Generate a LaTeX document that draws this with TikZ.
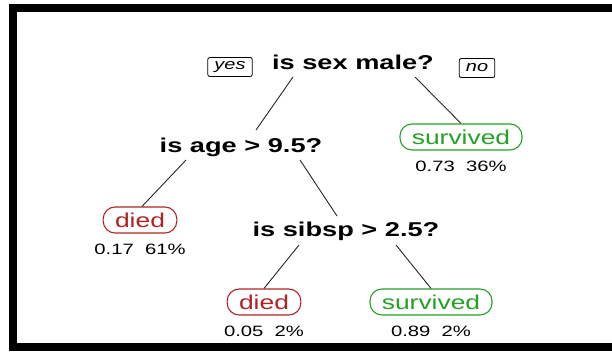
\documentclass[tikz,border=0pt]{standalone}
\usepackage{fontspec}
\setmainfont{Liberation Sans}
\definecolor{diedred}{RGB}{176,36,36}
\definecolor{survgreen}{RGB}{38,160,38}

\begin{document}
\begin{tikzpicture}[x=1pt,y=-1pt,label distance=9pt,
		split/.style={font=\fontsize{20}{22}\selectfont\bfseries,xscale=1.36,inner sep=1pt},
		leaf/.style={draw,fill=white,rounded corners=12pt,line width=1.1pt,minimum height=26pt,inner xsep=9pt,inner ysep=0pt,font=\fontsize{20}{22}\selectfont,xscale=1.32},
		died/.style={leaf,draw=diedred,text=diedred},
		surv/.style={leaf,draw=survgreen,text=survgreen},
		side/.style={draw,rounded corners=2pt,line width=0.8pt,minimum height=19pt,inner xsep=5pt,inner ysep=0pt,font=\fontsize{15}{17}\selectfont\itshape,xscale=1.33},
		prob/.style={black,font=\fontsize{15}{17}\selectfont,xscale=1.35,inner sep=1pt},
		edge/.style={line width=0.9pt,black!85}]
		\useasboundingbox (0,0) rectangle (612,351);
		\draw[line width=8pt] (612,8) -- (12.5,8) -- (12.5,347) -- (612,347);
		
		\node[split] (male) at (353,62) {is sex male?};
		\node[split] (age) at (241,147) {is age > 9.5?};
		\node[split] (sibsp) at (346,231) {is sibsp > 2.5?};
		
		\node[side] (yes) at (230,67) {yes};
		\node[side] (no) at (477,68) {no};
		
		\node[surv,label={[prob]below:{0.73\ \ 36\%}}] (s1) at (461,137) {survived};
		\node[died,label={[prob]below:{0.17\ \ 61\%}}] (d1) at (140,220) {died};
		\node[died,label={[prob]below:{0.05\ \ 2\%}}] (d2) at (264,302) {died};
		\node[surv,label={[prob]below:{0.89\ \ 2\%}}] (s2) at (431,302) {survived};
		
		\draw[edge] ([shift={(-60,15)}]male.center) -- ([shift={(15,-17)}]age.center);
		\draw[edge] ([shift={(62,15)}]male.center) -- (s1.north);
		\draw[edge] ([shift={(-55,13)}]age.center) -- ([shift={(2,0)}]d1.north);
		\draw[edge] ([shift={(59,13)}]age.center) -- ([shift={(-9,-15)}]sibsp.center);
		\draw[edge] ([shift={(-47,14)}]sibsp.center) -- (d2.north);
		\draw[edge] ([shift={(50,14)}]sibsp.center) -- (s2.north);
\end{tikzpicture}
\end{document}
